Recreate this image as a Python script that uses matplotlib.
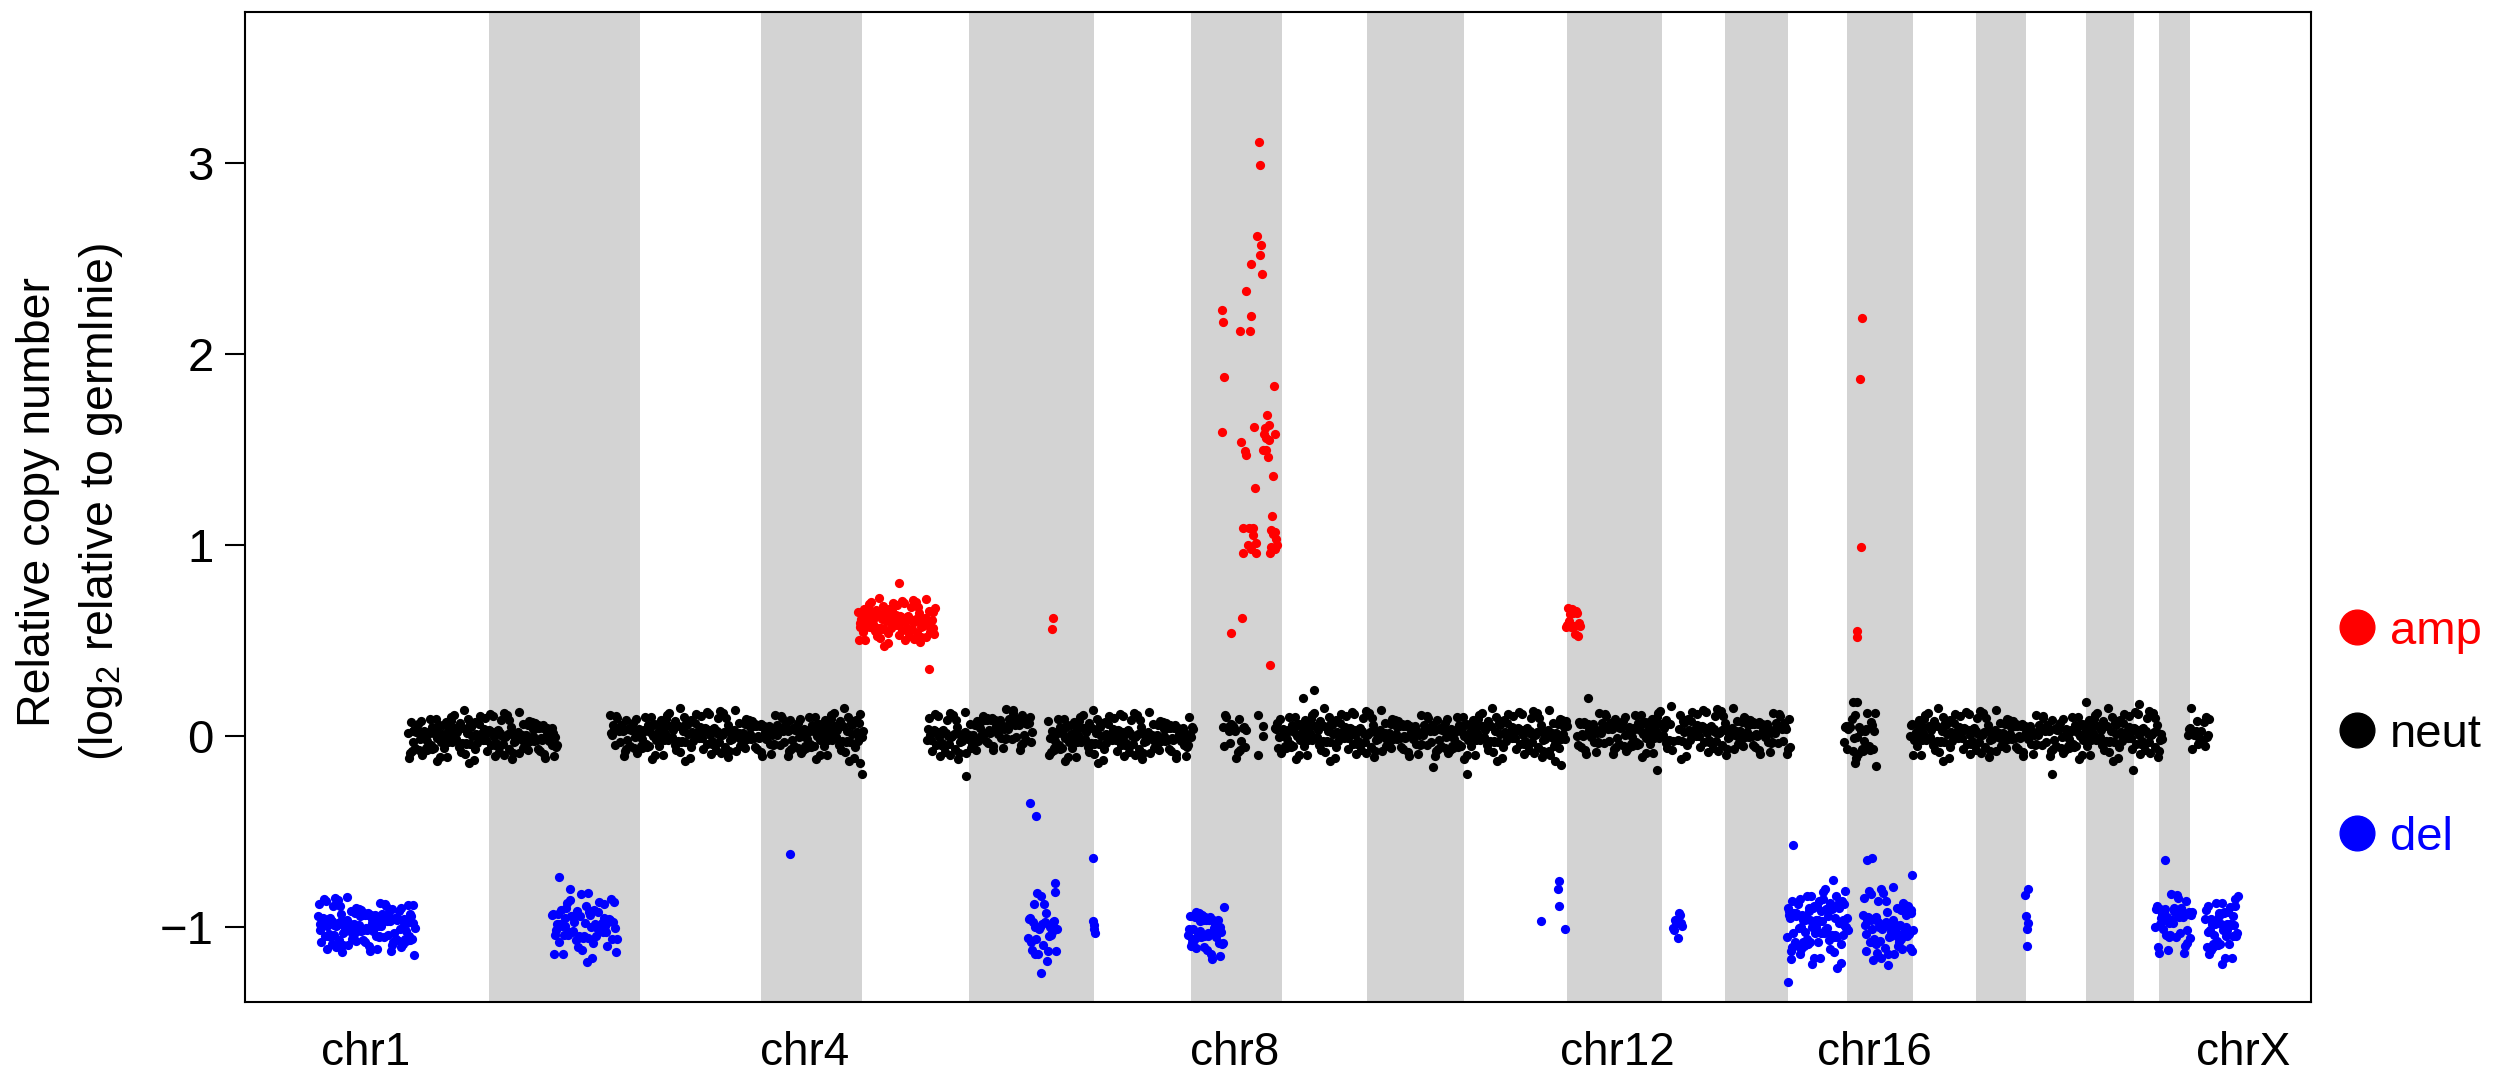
import numpy as np
import matplotlib
matplotlib.use("Agg")
import matplotlib.pyplot as plt

plt.rcParams['font.family'] = ['Liberation Sans', 'DejaVu Sans']
plt.rcParams['mathtext.fontset'] = 'custom'
plt.rcParams['mathtext.rm'] = 'Liberation Sans'
plt.rcParams['mathtext.it'] = 'Liberation Sans:italic'

# ---------------- data (genome index units) ----------------
chrom_labels = ["chr1", "chr4", "chr8", "chr12", "chr16", "chrX"]
chrom_label_pos = [121, 560, 990, 1372, 1629, 1998]

# shaded (even-numbered) chromosomes
band_start = [244, 516, 724, 946, 1122, 1322, 1480, 1602, 1731, 1841, 1914]
band_end = [395, 617, 849, 1037, 1219, 1417, 1543, 1668, 1781, 1889, 1945]

# segment summaries: start, end, level, spread, bin count
del_start = [73, 307, 783, 943, 1427, 1542, 1618, 1910, 1960]
del_end = [170, 372, 812, 979, 1438, 1603, 1668, 1947, 1993]
del_level = [-0.99, -1.0, -1.0, -1.02, -1.01, -0.98, -1.0, -0.97, -1.0]
del_sd = [0.065, 0.07, 0.08, 0.07, 0.05, 0.09, 0.09, 0.08, 0.08]
del_n = [140, 70, 30, 45, 10, 95, 70, 45, 45]

amp_start = [613, 1320]
amp_end = [690, 1335]
amp_level = [0.60, 0.60]
amp_sd = [0.05, 0.055]
amp_n = [110, 15]

neut_start = [163, 365, 682, 735, 803, 977, 1030, 1332, 1433, 1598, 1665, 1942]
neut_end = [312, 618, 735, 787, 948, 1002, 1322, 1428, 1545, 1632, 1917, 1965]
neut_level = [0.0, 0.01, 0.0, 0.04, 0.0, 0.01, 0.01, 0.02, 0.02, 0.01, 0.01, 0.02]
neut_sd = [0.055, 0.055, 0.055, 0.055, 0.055, 0.06, 0.055, 0.055, 0.055, 0.07, 0.055, 0.055]
neut_n = [180, 300, 60, 60, 170, 20, 340, 110, 130, 30, 290, 20]

# individual bins
amp_x = [654, 684, 808, 807,
         1014, 1015, 1012, 1016, 1015, 1006, 1017, 1001, 977, 978, 1006, 995, 1005,
         979, 1029, 1022, 1009, 1020, 1024, 977, 1030, 1019, 1021, 1024, 996, 1000,
         1001, 1018, 1021, 1023, 1028, 1010, 1027, 998, 1004, 1008, 1008, 1026, 1030,
         1028, 1031, 1032, 1011, 1003, 1026, 1030, 998, 1011, 1025, 1006, 986, 997, 1025,
         1612, 1612, 1617, 1615, 1616]
amp_y = [0.80, 0.35, 0.62, 0.56,
         3.11, 2.99, 2.62, 2.57, 2.52, 2.47, 2.42, 2.33, 2.23, 2.17, 2.20, 2.12, 2.12,
         1.88, 1.83, 1.68, 1.62, 1.61, 1.63, 1.59, 1.58, 1.58, 1.56, 1.55, 1.54, 1.49,
         1.47, 1.50, 1.50, 1.46, 1.36, 1.30, 1.15, 1.09, 1.09, 1.09, 1.05, 1.08, 1.07,
         1.06, 1.03, 1.00, 1.01, 1.00, 0.99, 0.98, 0.96, 0.96, 0.96, 0.98, 0.54, 0.62, 0.37,
         0.55, 0.52, 2.19, 1.87, 0.99]

neut_x = [721, 1058, 1069, 1222, 1188, 1412, 1343, 1807, 1888, 1841, 1894, 1316,
          1310, 1305, 1013, 1013, 1018, 1018, 615, 617, 1608, 1612, 1610]
neut_y = [-0.21, 0.20, 0.24, -0.20, -0.16, -0.18, 0.20, -0.20, -0.18, 0.18, 0.17, -0.15,
          -0.13, -0.10, 0.11, -0.10, 0.05, 0.00, -0.14, -0.20, 0.18, 0.18, -0.14]

del_x = [545, 785, 791, 810, 848, 796, 790, 848, 849, 849, 850,
         314, 325, 343, 1314, 1313, 1314, 1296, 1320, 1548, 1543,
         1622, 1627, 1667, 1783, 1780, 1781, 1783, 1782, 1782, 1920]
del_y = [-0.62, -0.35, -0.42, -0.77, -0.64, -1.24, -1.14, -0.97, -0.99, -1.01, -1.03,
         -0.74, -0.80, -0.82, -0.76, -0.80, -0.89, -0.97, -1.01, -0.57, -1.29,
         -0.65, -0.64, -0.73, -0.80, -0.83, -0.94, -0.98, -1.01, -1.10, -0.65]

# fixed table of bin-level residuals (in units of segment spread)
RESID = np.array([
    0.3, -1.2, 0.8, -0.1, 1.5, -0.6, 0.2, -2.1, 0.9, -0.4,
    1.1, 0.0, -0.9, 0.5, -1.6, 0.7, -0.3, 1.9, -0.8, 0.1,
    -0.5, 1.3, -1.1, 0.4, -0.2, 2.2, -0.7, 0.6, -1.4, 0.2,
    0.9, -0.3, -1.8, 1.0, 0.1, -0.6, 1.6, -1.0, 0.3, -0.1,
    -1.3, 0.8, 0.5, -2.4, 1.2, -0.4, 0.0, 1.4, -0.9, 0.6,
    -0.2, -1.5, 0.7, 2.0, -0.5, 0.3, -1.1, 0.9, -0.8, 1.7,
    0.2, -0.3, -1.9, 0.4, 1.0, -0.7, 0.1, -1.2, 1.3, -0.1,
    0.6, -2.0, 0.8, -0.4, 1.5, 0.0, -1.0, 0.5, -0.6, 2.5,
    -1.4, 0.3, 0.7, -0.9, 1.1, -0.2, -1.7, 0.4, 0.9, -0.5,
    1.8, -1.3, 0.2, -0.8, 0.6, -2.2, 1.2, 0.1, -0.3, 1.0,
    -0.7, 0.5, -1.6, 0.8, -0.1, 1.4, -1.1, 0.3, 2.1, -0.6,
    -0.4, 0.9, -1.8, 0.2, 1.6, -0.9, 0.0, -1.2, 0.7, -0.2,
    1.3, -2.6, 0.4, -0.5, 1.0, 0.6, -1.5, 0.1, -0.8, 1.9,
    -0.3, 0.8, -1.0, 0.5, -2.0, 1.1, -0.1, 0.3, -1.4, 1.7,
    0.2, -0.6, 0.9, -1.9, 0.4, -0.2, 1.5, -1.1, 0.7, 0.0,
    -0.9, 2.3, -0.4, 0.6, -1.3, 0.1, 1.2, -0.7, -1.6, 0.8,
    0.3, -0.5, 1.4, -2.3, 0.5, -0.1, 1.0, -0.8, 0.2, 1.8,
    -1.2, 0.6, -0.3, -1.7, 0.9, 0.4, -0.6, 1.3, -1.0, 0.1,
    -2.1, 0.7, 1.6, -0.4, 0.2, -1.5, 1.1, -0.2, 0.5, -0.9,
    2.0, -0.7, 0.3, -1.1, 0.8])

legend_labels = ["amp", "neut", "del"]
legend_colors = ["#FF0000", "#000000", "#0000FF"]
state_colors = {"amp": "#FF0000", "neut": "#000000", "del": "#0000FF"}


def expand(starts, ends, levels, sds, counts, offset):
    xs, ys = [], []
    k = offset
    for s, e, lv, sd, n in zip(starts, ends, levels, sds, counts):
        i = np.arange(n)
        xs.append(s + (e - s) * (i + 0.5) / n)
        ys.append(lv + sd * RESID[((k + i) * 7) % len(RESID)])
        k += n
    return np.concatenate(xs), np.concatenate(ys)


nx, ny = expand(neut_start, neut_end, neut_level, neut_sd, neut_n, 0)
ax_, ay_ = expand(amp_start, amp_end, amp_level, amp_sd, amp_n, 37)
dx, dy = expand(del_start, del_end, del_level, del_sd, del_n, 91)

# ---------------- figure ----------------
W, H = 2508, 1078
fig = plt.figure(figsize=(W / 100, H / 100), dpi=100)
ax = fig.add_axes([245 / W, 1 - 1002 / H, (2311 - 245) / W, (1002 - 12) / H])
ax.set_xlim(0, 2066)
ax.set_ylim(-1.3927, 3.7906)

for s, e in zip(band_start, band_end):
    ax.axvspan(s, e, color="#D3D3D3", lw=0, zorder=0)

ms = 44
ax.scatter(nx, ny, s=ms, c=state_colors["neut"], lw=0, zorder=2)
ax.scatter(neut_x, neut_y, s=ms, c=state_colors["neut"], lw=0, zorder=2)
ax.scatter(ax_, ay_, s=ms, c=state_colors["amp"], lw=0, zorder=3)
ax.scatter(amp_x, amp_y, s=ms, c=state_colors["amp"], lw=0, zorder=3)
ax.scatter(dx, dy, s=ms, c=state_colors["del"], lw=0, zorder=3)
ax.scatter(del_x, del_y, s=ms, c=state_colors["del"], lw=0, zorder=3)

for sp in ax.spines.values():
    sp.set_linewidth(1.5)

ax.set_yticks([-1, 0, 1, 2, 3])
ax.tick_params(axis="y", length=14.4, width=1.5, pad=8, labelsize=34)
ax.set_xticks(chrom_label_pos)
ax.set_xticklabels(chrom_labels)
ax.tick_params(axis="x", length=0, pad=21, labelsize=33)

fig.text(38 / W, 1 - 502 / H, "Relative copy number", rotation=90,
         ha="center", va="center", fontsize=33.5)
fig.text(101 / W, 1 - 502 / H, r"(log$_\mathrm{2}$ relative to germlnie)", rotation=90,
         ha="center", va="center", fontsize=33.5)

leg_y = [627, 730, 833]
for lab, col, yy in zip(legend_labels, legend_colors, leg_y):
    fig.add_artist(plt.Line2D([2357 / W], [1 - yy / H], marker="o", markersize=25,
                              color=col, lw=0, transform=fig.transFigure))
    fig.text(2390 / W, 1 - (yy + 17) / H, lab, color=col, fontsize=34,
             ha="left", va="baseline")

fig.savefig("out.png", dpi=100)
